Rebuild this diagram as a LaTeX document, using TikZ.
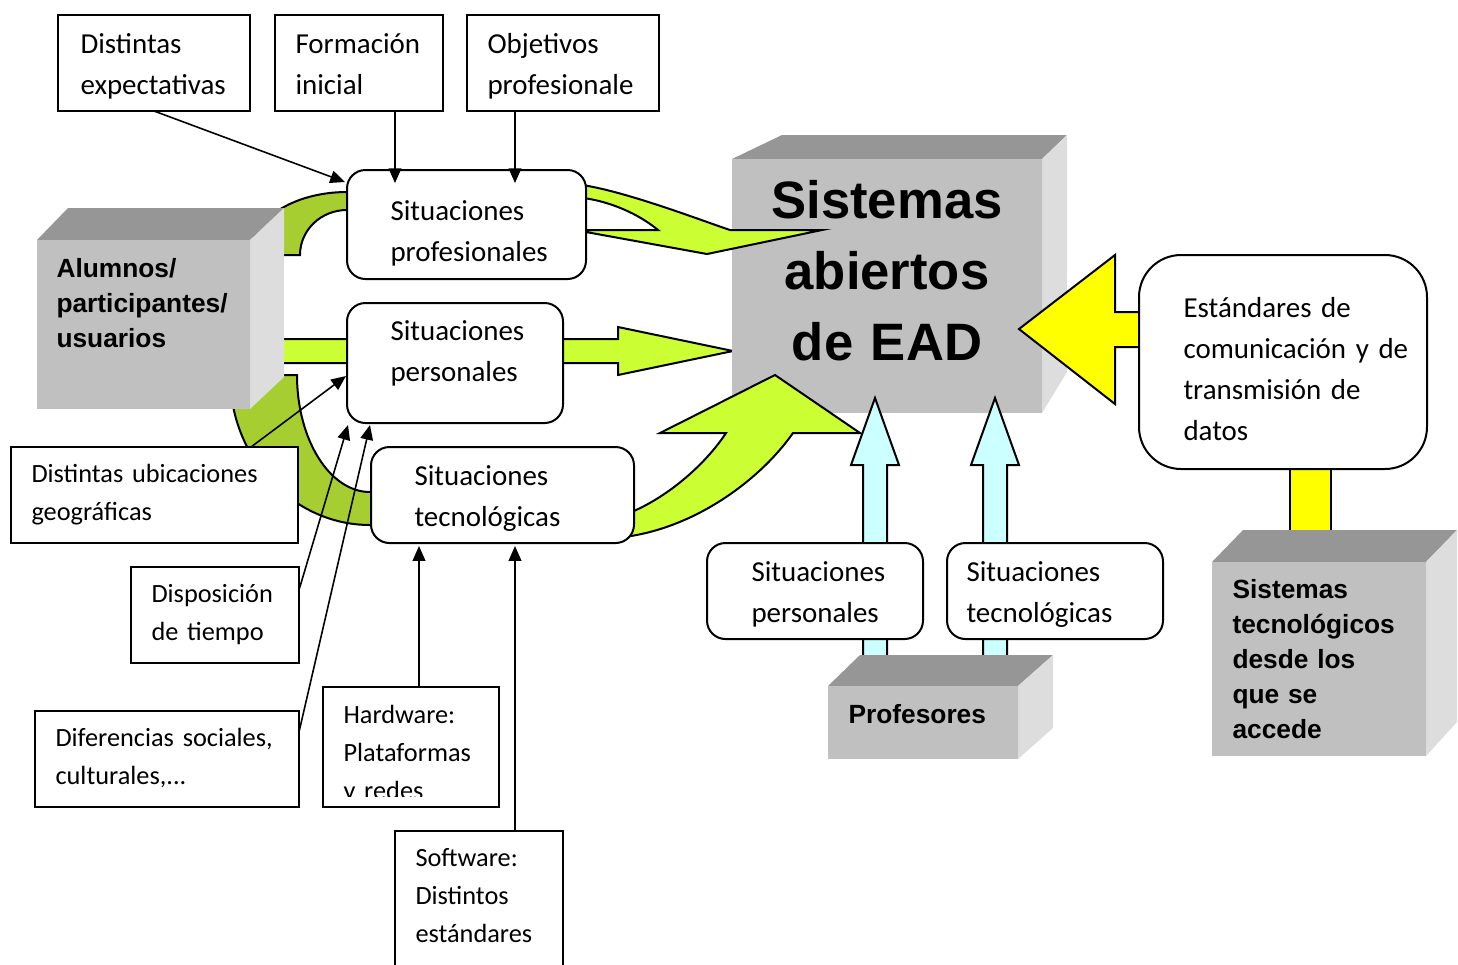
\documentclass[tikz,border=0pt]{standalone}
\usepackage{fontspec}
\setmainfont{Carlito}
\newfontfamily\arialf{Liberation Sans}
\usetikzlibrary{arrows.meta,calc}
\definecolor{lgreen}{RGB}{204,255,51}
\definecolor{dgreen}{RGB}{166,206,48}
\definecolor{lcyan}{RGB}{204,255,255}
\definecolor{yel}{RGB}{255,255,0}
\definecolor{gfront}{RGB}{192,192,192}
\definecolor{gtop}{RGB}{150,150,150}
\definecolor{gside}{RGB}{221,221,221}
\def\pxu{0.38pt}
\begin{document}
\begin{tikzpicture}[x=0.38pt,y=-0.38pt,
  sq/.style={draw, line width=0.76pt, fill=white, inner sep=0pt, outer sep=0pt},
  rsq/.style={sq, rounded corners=7pt},
  face/.style={fill=gfront, inner sep=0pt, outer sep=0pt},
  bshape/.style={draw=black, line width=0.76pt, line join=miter},
  tarr/.style={line width=0.6pt, -{Triangle[length=5.6pt,width=4.8pt]}},
  t11/.style={anchor=base west, inner sep=0pt, text width=110pt, align=left, font=\fontsize{11}{15.6}\selectfont},
  t10/.style={anchor=base west, inner sep=0pt, text width=110pt, align=left, font=\fontsize{10}{14.44}\selectfont},
  tb/.style={anchor=base west, inner sep=0pt, text width=110pt, align=left, font=\arialf\bfseries\fontsize{10}{13.3}\selectfont},
  tbig/.style={anchor=base, inner sep=0pt, text width=150pt, align=center, font=\arialf\bfseries\fontsize{20}{27}\selectfont}]
\useasboundingbox (0,0) rectangle (1458,964);
\clip (0,0) rectangle (1458,964);

% dark green arcs (behind)
\path[bshape, fill=dgreen] (250,255) .. controls (250,220) and (293,192) .. (347,192) -- (360,192) -- (360,210) -- (347,210) .. controls (321,210) and (300,230) .. (300,255) -- cycle;
\path[bshape, fill=dgreen] (230,375) .. controls (230,458) and (293,525) .. (370,525) -- (385,525) -- (385,492) -- (370,492) .. controls (330,492) and (297,440) .. (297,375) -- cycle;
% middle straight arrow
\path[bshape, fill=lgreen] (270,339) -- (618,339) -- (618,327) -- (733,351) -- (618,375) -- (618,363) -- (270,363) -- cycle;

% Sistemas abiertos 3D
\fill[gtop] (732,159) -- (782,135) -- (1067,135) -- (1042,159) -- cycle;
\fill[gside] (1042,159) -- (1067,135) -- (1067,372) -- (1042,413) -- cycle;
\node[face, minimum width=310*\pxu, minimum height=254*\pxu] (sab) at (887,286) {};

% yellow bar
\path[bshape, fill=yel] (1290,460) rectangle (1331,545);
% cyan arrows
\path[bshape, fill=lcyan] (875,398) -- (899,465) -- (887,465) -- (887,670) -- (863,670) -- (863,465) -- (851,465) -- cycle;
\path[bshape, fill=lcyan] (995,398) -- (1019,465) -- (1007,465) -- (1007,670) -- (983,670) -- (983,465) -- (971,465) -- cycle;
% light green curved arrows
\path[bshape, fill=lgreen] (575,184) .. controls (620,189) and (700,220) .. (730,230) -- (822,230) -- (707,254) -- (575,230) -- (658,230) .. controls (640,215) and (610,200) .. (575,197) -- cycle;
\path[bshape, fill=lgreen] (624,537) .. controls (695,528) and (760,480) .. (793,433) -- (860,433) -- (775,375) -- (660,433) -- (726,433) .. controls (705,465) and (665,500) .. (624,515) -- cycle;
% yellow arrow
\path[bshape, fill=yel] (1019,329) -- (1115,255) -- (1115,312) -- (1150,312) -- (1150,347) -- (1115,347) -- (1115,404) -- cycle;

% Alumnos 3D
\fill[gtop] (37,240) -- (68,208) -- (284,208) -- (250,240) -- cycle;
\fill[gside] (250,240) -- (284,208) -- (284,377) -- (250,409) -- cycle;
\node[face, minimum width=213*\pxu, minimum height=169*\pxu] (alu) at (143.5,324.5) {};
% Profesores 3D
\fill[gtop] (828,686) -- (860,655) -- (1053,655) -- (1018,686) -- cycle;
\fill[gside] (1018,686) -- (1053,655) -- (1053,728) -- (1018,759) -- cycle;
\node[face, minimum width=190*\pxu, minimum height=73*\pxu] (prof) at (923,722.5) {};
% Sistemas tecnologicos 3D
\fill[gtop] (1212,562) -- (1243,530) -- (1457,530) -- (1426,562) -- cycle;
\fill[gside] (1426,562) -- (1457,530) -- (1457,722) -- (1426,756) -- cycle;
\node[face, minimum width=214*\pxu, minimum height=194*\pxu] (stc) at (1319,659) {};

% boxes
\node[sq, minimum width=192*\pxu, minimum height=96*\pxu] (dexp) at (154,63) {};
\node[sq, minimum width=168*\pxu, minimum height=96*\pxu] (form) at (359,63) {};
\node[sq, minimum width=192*\pxu, minimum height=96*\pxu] (obj) at (563,63) {};
\node[rsq, minimum width=239*\pxu, minimum height=109*\pxu] (sprof) at (466.5,224.5) {};
\node[rsq, minimum width=216*\pxu, minimum height=120*\pxu] (spers) at (455,363) {};
\node[rsq, minimum width=263*\pxu, minimum height=96*\pxu] (stec) at (502.5,495) {};
\node[sq, minimum width=287*\pxu, minimum height=96*\pxu] (ubic) at (154.5,495) {};
\node[sq, minimum width=168*\pxu, minimum height=96*\pxu] (disp) at (215,615) {};
\node[sq, minimum width=264*\pxu, minimum height=96*\pxu] (dif) at (167,759) {};
\node[sq, minimum width=176*\pxu, minimum height=120*\pxu] (hw) at (411,747) {};
\node[sq, minimum width=168*\pxu, minimum height=160*\pxu] (sw) at (479,911) {};
\node[rsq, minimum width=216*\pxu, minimum height=96*\pxu] (bpers) at (815,591) {};
\node[rsq, minimum width=216*\pxu, minimum height=96*\pxu] (btec) at (1055,591) {};
\node[sq, rounded corners=16pt, minimum width=288*\pxu, minimum height=214*\pxu] (est) at (1283,362) {};

% texts
\node[t11] (dexpt) at (80,53) {Distintas\\expectativas};
\node[t11] (formt) at (295,53) {Formación\\inicial};
\node[t11] (objt) at (487,53) {Objetivos\\profesionale};
\node[t11] (sproft) at (390,220) {Situaciones\\profesionales};
\node[t11] (sperst) at (390,340) {Situaciones\\personales};
\node[t11] (stect) at (414,485) {Situaciones\\tecnológicas};
\node[t11] (bperst) at (751,581) {Situaciones\\personales};
\node[t11] (btect) at (966,581) {Situaciones\\tecnológicas};
\node[t11] (estt) at (1183,317) {Estándares de\\comunicación y de\\transmisión de\\datos};
\node[t10] (ubict) at (31,482) {Distintas ubicaciones\\geográficas};
\node[t10] (dispt) at (151,602) {Disposición\\de tiempo};
\node[t10] (dift) at (55,746) {Diferencias sociales,\\culturales,...};
\begin{scope}
\clip (323,687) rectangle (499,796);
\node[t10] (hwt) at (343,723) {Hardware:\\Plataformas\\y redes};
\end{scope}
\node[t10] (swt) at (415,866) {Software:\\Distintos\\estándares};
\node[tb] (alut) at (56,277) {Alumnos/\\participantes/\\usuarios};
\node[tb] (proft) at (848,723) {Profesores};
\node[tb] (stct) at (1232,598) {Sistemas\\tecnológicos\\desde los\\que se\\accede};
\node[tbig] (sabt) at (887,218) {Sistemas\\abiertos\\de EAD};

% thin arrows
\coordinate (a1) at (345,182);
\coordinate (a2) at (395,183);
\coordinate (a3) at (515,183);
\coordinate (u1) at (251,447);
\coordinate (u2) at (346,376);
\coordinate (d1) at (299,590);
\coordinate (d2) at (348,425);
\coordinate (f1) at (299,732);
\coordinate (f2) at (370,425);
\coordinate (h2) at (419,546);
\coordinate (s2) at (515,546);
\draw[tarr] (dexp.south) -- (a1);
\draw[tarr] (a2 |- form.south) -- (a2);
\draw[tarr] (a3 |- obj.south) -- (a3);
\draw[tarr] (u1) -- (u2);
\draw[tarr] (d1) -- (d2);
\draw[tarr] (f1) -- (f2);
\draw[tarr] (h2 |- hw.north) -- (h2);
\draw[tarr] (s2 |- sw.north) -- (s2);
\end{tikzpicture}
\end{document}
